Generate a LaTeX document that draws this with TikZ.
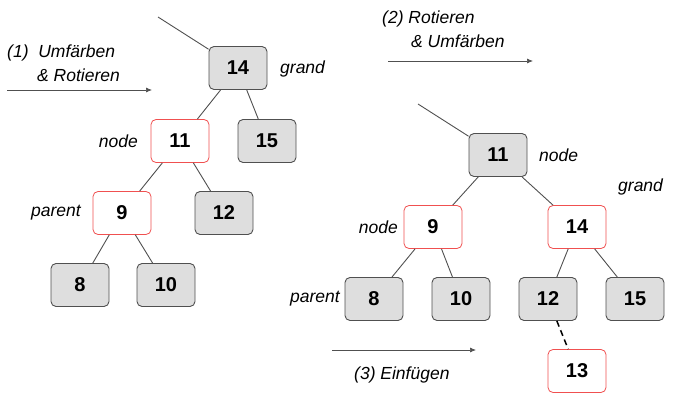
\documentclass[tikz,border=0pt]{standalone}
\usepackage{fontspec}
\setmainfont{Liberation Sans}
\usetikzlibrary{arrows.meta}
\definecolor{boxgray}{HTML}{DEDEDE}
\definecolor{edgegray}{HTML}{505050}
\definecolor{redline}{HTML}{F05050}
\begin{document}
\begin{tikzpicture}[x=1pt,y=-1pt,
  blk/.style={draw=edgegray,fill=boxgray,rounded corners=5pt,minimum width=58pt,minimum height=43pt,line width=0.9pt,font=\fontsize{20}{22}\selectfont\bfseries,inner sep=0pt},
  rd/.style={draw=redline,fill=white,rounded corners=5pt,minimum width=58pt,minimum height=43pt,line width=0.8pt,font=\fontsize{20}{22}\selectfont\bfseries,inner sep=0pt},
  lbl/.style={font=\fontsize{17.5}{20}\selectfont\itshape,inner sep=0pt},
  edge/.style={draw=edgegray,line width=0.9pt},
  step arrow/.style={draw=edgegray,line width=0.7pt,-{Latex[length=6pt,width=5pt]}}]
\useasboundingbox (0,0) rectangle (691,415);
% left tree
\node[blk] (a14) at (238,68) {14};
\node[rd] (a11) at (180,141) {11};
\node[blk] (a15) at (267,141) {15};
\node[rd] (a9) at (122,213) {9};
\node[blk] (a12) at (224,213) {12};
\node[blk] (a8) at (80,285) {8};
\node[blk] (a10) at (166,285) {10};
\coordinate (atop) at (158,17);
\draw[edge] (atop) -- (a14);
\draw[edge] (a14) -- (a11);
\draw[edge] (a14) -- (a15);
\draw[edge] (a11) -- (a9);
\draw[edge] (a11) -- (a12);
\draw[edge] (a9) -- (a8);
\draw[edge] (a9) -- (a10);
\node[lbl,anchor=west] (lgrand) at (280,69) {grand};
\node[lbl,anchor=east] (lnode) at (138,141) {node};
\node[lbl,anchor=east] (lparent) at (81,213) {parent};
% step 1
\node[lbl,anchor=west] (t1a) at (7,53) {(1)\ \ Umfärben};
\node[lbl,anchor=west] (t1b) at (37,75) {\& Rotieren};
\coordinate (s1a) at (7,90);
\coordinate (s1b) at (152,90);
\draw[step arrow] (s1a) -- (s1b);
% step 2
\node[lbl,anchor=west] (t2a) at (382,19) {(2) Rotieren};
\node[lbl,anchor=west] (t2b) at (411,41) {\& Umfärben};
\coordinate (s2a) at (388,61);
\coordinate (s2b) at (533,61);
\draw[step arrow] (s2a) -- (s2b);
% right tree
\node[blk] (b11) at (498,155) {11};
\node[rd] (b9) at (433,227) {9};
\node[rd] (b14) at (577,227) {14};
\node[blk] (b8) at (374,299) {8};
\node[blk] (b10) at (461,299) {10};
\node[blk] (b12) at (548,299) {12};
\node[blk] (b15) at (635,299) {15};
\node[rd] (b13) at (577,371) {13};
\coordinate (btop) at (418,104);
\draw[edge] (btop) -- (b11);
\draw[edge] (b11) -- (b9);
\draw[edge] (b11) -- (b14);
\draw[edge] (b9) -- (b8);
\draw[edge] (b9) -- (b10);
\draw[edge] (b14) -- (b12);
\draw[edge] (b14) -- (b15);
\draw[black,line width=1.5pt,dash pattern=on 6pt off 4pt] (b12) -- (b13);
\node[lbl,anchor=west] (rnode) at (539,155) {node};
\node[lbl,anchor=west] (rgrand) at (618,187) {grand};
\node[lbl,anchor=east] (rnode2) at (398,227) {node};
\node[lbl,anchor=east] (rparent) at (340,299) {parent};
% step 3
\coordinate (s3a) at (332,350);
\coordinate (s3b) at (476,350);
\draw[step arrow] (s3a) -- (s3b);
\node[lbl,anchor=west] (t3) at (354,375) {(3) Einfügen};
\end{tikzpicture}
\end{document}
